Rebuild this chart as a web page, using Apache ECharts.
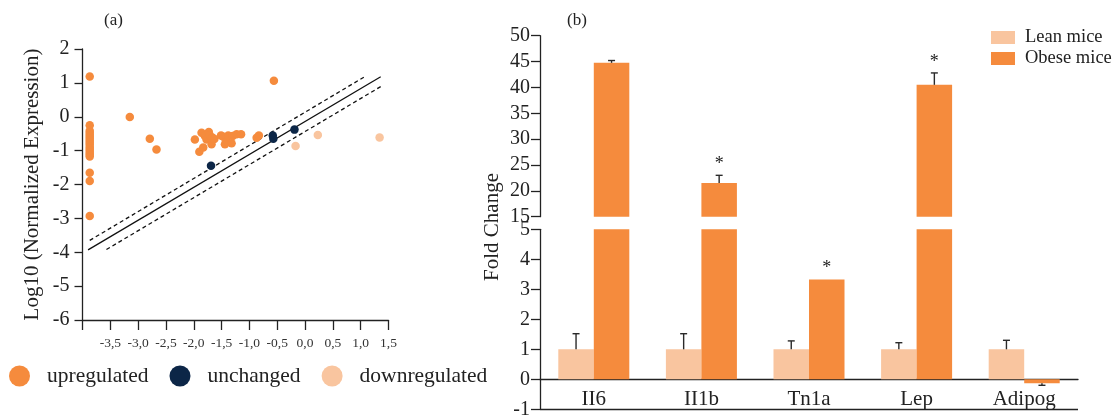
<!DOCTYPE html>
<html>
<head>
<meta charset="utf-8">
<script src="https://cdn.jsdelivr.net/npm/echarts@6/dist/echarts.min.js"></script>
<style>
html,body{margin:0;padding:0;background:#fff;}
#chart{width:1118px;height:416px;}
</style>
</head>
<body>
<div id="chart"></div>
<script>
// ---------- Panel (a) data ----------
const upregulated = [
  [-3.87, 1.19], [-3.87, -0.25], [-3.87, -0.41], [-3.87, -0.47], [-3.87, -0.53], [-3.87, -0.59],
  [-3.87, -0.65], [-3.87, -0.71], [-3.87, -0.77], [-3.87, -0.83], [-3.87, -0.89], [-3.87, -0.95],
  [-3.87, -1.01], [-3.87, -1.07], [-3.87, -1.12], [-3.87, -1.17], [-3.87, -1.65], [-3.87, -1.90],
  [-3.87, -2.93],
  [-3.15, -0.01], [-2.79, -0.65], [-2.67, -0.97],
  [-1.98, -0.67], [-1.90, -1.03], [-1.86, -0.47], [-1.83, -0.91], [-1.80, -0.57], [-1.77, -0.67],
  [-1.73, -0.45], [-1.71, -0.55], [-1.68, -0.81], [-1.66, -0.62], [-1.63, -0.66],
  [-1.51, -0.55], [-1.47, -0.59], [-1.44, -0.81], [-1.41, -0.72], [-1.38, -0.55], [-1.32, -0.78],
  [-1.30, -0.57], [-1.23, -0.52], [-1.15, -0.52], [-0.87, -0.62], [-0.83, -0.55],
  [-0.56, 1.06]
];
const unchanged = [[-1.69, -1.45], [-0.58, -0.55], [-0.57, -0.65], [-0.19, -0.38]];
const downregulated = [[-0.17, -0.86], [0.23, -0.54], [1.34, -0.61]];
const refLine = [[-3.90, -3.93], [1.36, 1.18]];
const upperBound = [[-3.87, -3.65], [1.06, 1.17]];
const lowerBound = [[-3.57, -3.92], [1.36, 0.89]];
const xTickValues = [-4, -3.5, -3, -2.5, -2, -1.5, -1, -0.5, 0, 0.5, 1, 1.5];
const xTickLabels = ['', '-3,5', '-3,0', '-2,5', '-2,0', '-1,5', '-1,0', '-0,5', '0,0', '0,5', '1,0', '1,5'];

// ---------- Panel (b) data ----------
const genes = ['II6', 'II1b', 'Tn1a', 'Lep', 'Adipog'];
const leanValues = [1.0, 1.0, 1.0, 1.0, 1.0];
const leanErrTop = [1.52, 1.52, 1.28, 1.22, 1.30];
const obeseValues = [44.75, 21.5, 3.33, 40.5, -0.13];
const obeseErrEnd = [45.2, 23.0, null, 42.8, -0.2];
const significant = [false, true, true, true, false];

const ORANGE = '#F58B3D';
const PEACH = '#F9C59F';
const NAVY = '#0C2647';
const FONT = '"Liberation Serif", "DejaVu Serif", serif';

const UPPER_MIN = 15, LOWER_MAX = 5;
function errData(vals, ends) {
  return vals.map((v, i) => ends[i] == null ? null : [i, v, ends[i]]).filter(d => d);
}
const leanErr = errData(leanValues, leanErrTop);
const obeseErr = errData(obeseValues, obeseErrEnd);
const obeseErrUpper = obeseErr.filter(d => d[2] >= UPPER_MIN);
const obeseErrLower = obeseErr.filter(d => d[2] < LOWER_MAX);
const starData = significant.map((s, i) => s ? [i, Math.max(obeseValues[i], obeseErrEnd[i] == null ? -Infinity : obeseErrEnd[i])] : null).filter(d => d);
const starUpper = starData.filter(d => d[1] >= UPPER_MIN);
const starLower = starData.filter(d => d[1] < LOWER_MAX);

const BAR_FRAC = 0.33;
function errRender(sign) {
  return function (params, api) {
    const cat = api.value(0), lo = api.value(1), hi = api.value(2);
    const band = api.size([1, 0])[0];
    const bw = band * BAR_FRAC;
    const p0 = api.coord([cat, lo]);
    const p1 = api.coord([cat, hi]);
    const x = p0[0] + sign * bw / 2;
    const st = { stroke: '#2a2a2a', lineWidth: 1.4 };
    return {
      type: 'group',
      children: [
        { type: 'line', shape: { x1: x, y1: p0[1], x2: x, y2: p1[1] }, style: st },
        { type: 'line', shape: { x1: x - 3.5, y1: p1[1], x2: x + 3.5, y2: p1[1] }, style: st }
      ]
    };
  };
}
function starRender(params, api) {
  const cat = api.value(0), v = api.value(1);
  const band = api.size([1, 0])[0];
  const bw = band * BAR_FRAC;
  const p = api.coord([cat, v]);
  return {
    type: 'text',
    style: { text: '*', x: p[0] + bw / 2, y: p[1] - 2, fontSize: 18, fontFamily: FONT, fill: '#222', align: 'center', verticalAlign: 'bottom' }
  };
}

const chart = echarts.init(document.getElementById('chart'), null, { renderer: 'canvas' });

const option = {
  backgroundColor: '#fff',
  animation: false,
  textStyle: { fontFamily: FONT },
  title: [
    { text: '(a)', left: 104, top: 12, padding: 0, textStyle: { fontFamily: FONT, fontSize: 17, fontWeight: 'normal', color: '#222' } },
    { text: '(b)', left: 567, top: 12, padding: 0, textStyle: { fontFamily: FONT, fontSize: 17, fontWeight: 'normal', color: '#222' } }
  ],
  legend: [
    {
      data: ['upregulated', 'unchanged', 'downregulated'],
      left: 9, top: 365, padding: 0, icon: 'circle', itemWidth: 21, itemHeight: 21, itemGap: 21,
      textStyle: { fontFamily: FONT, fontSize: 21.5, color: '#222', padding: [0, 0, 0, 12] },
      selectedMode: false
    },
    {
      data: ['Lean mice', 'Obese mice'],
      left: 991, top: 28, padding: 0, orient: 'vertical', icon: 'rect', itemWidth: 24, itemHeight: 13, itemGap: 2,
      textStyle: { fontFamily: FONT, fontSize: 18.5, lineHeight: 19, color: '#222', padding: [0, 0, 0, 5] },
      selectedMode: false
    }
  ],
  grid: [
    { left: 82.5, top: 49, width: 306, height: 271, outerBoundsMode: 'none', containLabel: false },
    { left: 540, top: 35.7, width: 538, height: 181, outerBoundsMode: 'none', containLabel: false },
    { left: 540, top: 229.3, width: 538, height: 180, outerBoundsMode: 'none', containLabel: false }
  ],
  xAxis: [
    {
      type: 'value', gridIndex: 0, min: -4, max: 1.5, interval: 0.5,
      axisLine: { show: true, onZero: false, lineStyle: { color: '#222', width: 1.3 } },
      axisTick: { show: true, inside: false, length: 10, lineStyle: { color: '#222', width: 1.3 } },
      axisLabel: {
        fontFamily: FONT, fontSize: 13.5, color: '#333', margin: 16,
        formatter: v => { const i = xTickValues.findIndex(t => Math.abs(t - v) < 1e-9); return i >= 0 ? xTickLabels[i] : ''; }
      },
      splitLine: { show: false }
    },
    {
      type: 'category', gridIndex: 1, data: genes,
      axisLine: { show: false }, axisTick: { show: false }, axisLabel: { show: false }, splitLine: { show: false }
    },
    {
      type: 'category', gridIndex: 2, data: genes,
      axisLine: { show: true, onZero: true, lineStyle: { color: '#222', width: 1.3 } },
      axisTick: { show: false },
      axisLabel: { fontFamily: FONT, fontSize: 21, color: '#222', margin: -20 },
      splitLine: { show: false }
    }
  ],
  yAxis: [
    {
      type: 'value', gridIndex: 0, min: -6, max: 2, interval: 1,
      name: 'Log10 (Normalized Expression)', nameLocation: 'middle', nameGap: 40,
      nameTextStyle: { fontFamily: FONT, fontSize: 21, color: '#222' },
      axisLine: { show: true, onZero: false, lineStyle: { color: '#222', width: 1.3 } },
      axisTick: { show: true, inside: false, length: 8, lineStyle: { color: '#222', width: 1.3 } },
      axisLabel: { fontFamily: FONT, fontSize: 20, color: '#222', margin: 13 },
      splitLine: { show: false }
    },
    {
      type: 'value', gridIndex: 1, min: 15, max: 50, interval: 5,
      axisLine: { show: true, lineStyle: { color: '#222', width: 1.3 } },
      axisTick: { show: true, inside: false, length: 9, lineStyle: { color: '#222', width: 1.3 } },
      axisLabel: { fontFamily: FONT, fontSize: 20, color: '#222', margin: 10 },
      splitLine: { show: false }
    },
    {
      type: 'value', gridIndex: 2, min: -1, max: 5, interval: 1,
      axisLine: { show: true, lineStyle: { color: '#222', width: 1.3 } },
      axisTick: { show: true, inside: false, length: 9, lineStyle: { color: '#222', width: 1.3 } },
      axisLabel: { fontFamily: FONT, fontSize: 20, color: '#222', margin: 10 },
      splitLine: { show: false }
    }
  ],
  graphic: [
    {
      type: 'text', x: 492, y: 227, rotation: Math.PI / 2,
      style: { text: 'Fold Change', fontFamily: FONT, fontSize: 21, fill: '#222', align: 'center', verticalAlign: 'middle' }
    }
  ],
  series: [
    { name: 'upregulated', type: 'scatter', xAxisIndex: 0, yAxisIndex: 0, data: upregulated, symbolSize: 8.5, itemStyle: { color: ORANGE, opacity: 1 }, z: 3 },
    { name: 'unchanged', type: 'scatter', xAxisIndex: 0, yAxisIndex: 0, data: unchanged, symbolSize: 8.5, itemStyle: { color: NAVY, opacity: 1 }, z: 4 },
    { name: 'downregulated', type: 'scatter', xAxisIndex: 0, yAxisIndex: 0, data: downregulated, symbolSize: 8.5, itemStyle: { color: PEACH, opacity: 1 }, z: 3 },
    { name: 'ref', type: 'line', xAxisIndex: 0, yAxisIndex: 0, data: refLine, symbol: 'none', lineStyle: { color: '#111', width: 1.3 }, z: 2, silent: true },
    { name: 'upperBound', type: 'line', xAxisIndex: 0, yAxisIndex: 0, data: upperBound, symbol: 'none', lineStyle: { color: '#111', width: 1.3, type: [4, 3] }, z: 2, silent: true },
    { name: 'lowerBound', type: 'line', xAxisIndex: 0, yAxisIndex: 0, data: lowerBound, symbol: 'none', lineStyle: { color: '#111', width: 1.3, type: [4, 3] }, z: 2, silent: true },
    { name: 'Lean mice', type: 'bar', xAxisIndex: 1, yAxisIndex: 1, data: leanValues, barWidth: '33%', barGap: '0%', itemStyle: { color: PEACH }, clip: true },
    { name: 'Obese mice', type: 'bar', xAxisIndex: 1, yAxisIndex: 1, data: obeseValues, barWidth: '33%', barGap: '0%', itemStyle: { color: ORANGE }, clip: true },
    { name: 'Lean mice', type: 'bar', xAxisIndex: 2, yAxisIndex: 2, data: leanValues, barWidth: '33%', barGap: '0%', itemStyle: { color: PEACH }, clip: true },
    {
      name: 'Obese mice', type: 'bar', xAxisIndex: 2, yAxisIndex: 2, data: obeseValues, barWidth: '33%', barGap: '0%', itemStyle: { color: ORANGE }, clip: true,
      markLine: { silent: true, symbol: 'none', label: { show: false }, lineStyle: { color: '#222', width: 1.3, type: 'solid' }, data: [{ yAxis: -1 }] }
    },
    { type: 'custom', xAxisIndex: 2, yAxisIndex: 2, data: leanErr, renderItem: errRender(-1), z: 5, silent: true, encode: { x: 0, y: [1, 2] } },
    { type: 'custom', xAxisIndex: 1, yAxisIndex: 1, data: obeseErrUpper, renderItem: errRender(1), z: 5, silent: true, encode: { x: 0, y: [1, 2] } },
    { type: 'custom', xAxisIndex: 2, yAxisIndex: 2, data: obeseErrLower, renderItem: errRender(1), z: 5, silent: true, encode: { x: 0, y: [1, 2] } },
    { type: 'custom', xAxisIndex: 1, yAxisIndex: 1, data: starUpper, renderItem: starRender, z: 6, silent: true, encode: { x: 0, y: 1 } },
    { type: 'custom', xAxisIndex: 2, yAxisIndex: 2, data: starLower, renderItem: starRender, z: 6, silent: true, encode: { x: 0, y: 1 } }
  ]
};
chart.setOption(option);
</script>
</body>
</html>
